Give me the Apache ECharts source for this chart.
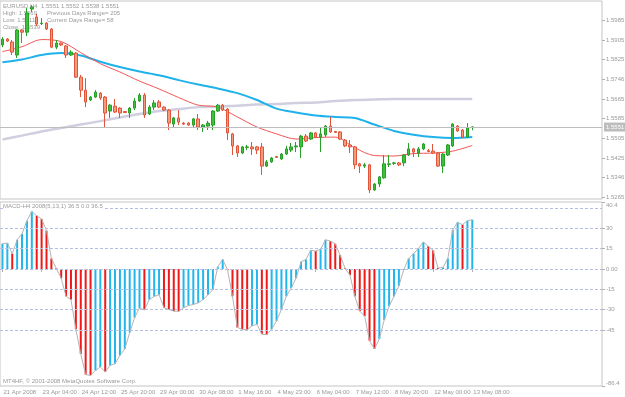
<!DOCTYPE html>
<html>
<head>
<meta charset="utf-8">
<script src="https://cdn.jsdelivr.net/npm/echarts@6.0.0/dist/echarts.min.js"></script>
<style>
  html, body { margin: 0; padding: 0; background: #fff; }
  #chart { width: 625px; height: 397px; }
</style>
</head>
<body>
<div id="chart"></div>
<script>
// EURUSD H4 candles, one entry per bar
const opens = [1.5885,1.5909,1.5897,1.5844,1.5946,1.5937,1.6031,1.5999,1.5972,1.5974,
  1.5950,1.5876,1.5893,1.5881,1.5844,1.5852,1.5754,1.5701,1.5661,1.5673,
  1.5689,1.5673,1.5616,1.5636,1.5628,1.5614,1.5608,1.5628,1.5657,1.5681,
  1.5604,1.5632,1.5653,1.5632,1.5620,1.5563,1.5588,1.5567,1.5567,1.5559,
  1.5584,1.5551,1.5555,1.5559,1.5616,1.5640,1.5624,1.5523,1.5474,1.5445,
  1.5468,1.5470,1.5470,1.5470,1.5392,1.5409,1.5431,1.5421,1.5441,1.5457,
  1.5470,1.5470,1.5514,1.5502,1.5527,1.5510,1.5519,1.5555,1.5533,1.5531,
  1.5498,1.5478,1.5470,1.5401,1.5392,1.5397,1.5295,1.5319,1.5344,1.5399,
  1.5403,1.5405,1.5405,1.5437,1.5462,1.5445,1.5462,1.5455,1.5453,1.5445,
  1.5392,1.5437,1.5474,1.5555,1.5539,1.5510,1.5551];
const closes = [1.5909,1.5901,1.5856,1.5946,1.5937,1.6015,1.6039,1.5970,1.5974,1.5950,
  1.5876,1.5893,1.5885,1.5844,1.5856,1.5754,1.5701,1.5653,1.5673,1.5693,
  1.5669,1.5608,1.5640,1.5612,1.5608,1.5610,1.5628,1.5657,1.5681,1.5600,
  1.5632,1.5649,1.5632,1.5620,1.5567,1.5588,1.5571,1.5563,1.5559,1.5584,
  1.5551,1.5559,1.5567,1.5616,1.5640,1.5620,1.5527,1.5474,1.5445,1.5470,
  1.5470,1.5462,1.5457,1.5392,1.5409,1.5425,1.5427,1.5441,1.5462,1.5470,
  1.5474,1.5514,1.5494,1.5527,1.5510,1.5523,1.5555,1.5531,1.5529,1.5502,
  1.5474,1.5470,1.5397,1.5392,1.5397,1.5295,1.5319,1.5348,1.5401,1.5401,
  1.5405,1.5397,1.5437,1.5462,1.5449,1.5462,1.5482,1.5451,1.5445,1.5392,
  1.5441,1.5478,1.5563,1.5535,1.5510,1.5547,1.5551];
const lows = [1.5876,1.5897,1.5844,1.5832,1.5893,1.5921,1.6019,1.5962,1.5966,1.5946,
  1.5872,1.5868,1.5881,1.5832,1.5840,1.5750,1.5673,1.5632,1.5657,1.5669,
  1.5661,1.5551,1.5588,1.5608,1.5588,1.5608,1.5588,1.5620,1.5653,1.5588,
  1.5600,1.5620,1.5628,1.5616,1.5539,1.5547,1.5559,1.5559,1.5555,1.5551,
  1.5539,1.5531,1.5539,1.5539,1.5612,1.5616,1.5498,1.5437,1.5429,1.5441,
  1.5457,1.5437,1.5441,1.5356,1.5388,1.5405,1.5425,1.5417,1.5437,1.5449,
  1.5449,1.5425,1.5490,1.5498,1.5506,1.5449,1.5510,1.5527,1.5527,1.5498,
  1.5470,1.5445,1.5380,1.5364,1.5384,1.5282,1.5291,1.5307,1.5340,1.5388,
  1.5397,1.5392,1.5392,1.5433,1.5429,1.5429,1.5457,1.5449,1.5441,1.5388,
  1.5364,1.5433,1.5470,1.5531,1.5506,1.5506,1.5538];
const highs = [1.5917,1.5913,1.5905,1.5950,1.5950,1.6035,1.6047,1.6011,1.5994,1.5978,
  1.5954,1.5905,1.5895,1.5885,1.5864,1.5856,1.5763,1.5750,1.5677,1.5701,
  1.5693,1.5677,1.5645,1.5665,1.5632,1.5616,1.5632,1.5669,1.5689,1.5689,
  1.5640,1.5661,1.5661,1.5636,1.5624,1.5592,1.5620,1.5571,1.5571,1.5588,
  1.5604,1.5563,1.5576,1.5620,1.5645,1.5645,1.5628,1.5527,1.5478,1.5474,
  1.5478,1.5490,1.5474,1.5486,1.5417,1.5429,1.5433,1.5445,1.5474,1.5486,
  1.5490,1.5519,1.5523,1.5531,1.5531,1.5547,1.5559,1.5592,1.5535,1.5535,
  1.5502,1.5498,1.5474,1.5405,1.5405,1.5401,1.5323,1.5352,1.5437,1.5437,
  1.5409,1.5409,1.5441,1.5486,1.5466,1.5470,1.5486,1.5462,1.5482,1.5449,
  1.5445,1.5482,1.5567,1.5559,1.5543,1.5567,1.5552];

// moving averages, read every 4th bar
const maBars = [0,4,8,12,16,20,24,28,32,36,40,44,48,52,56,60,64,68,72,76,80,84,88,92,96];
const maRed = [1.5858,1.5878,1.5907,1.5899,1.5854,1.5809,1.5775,1.5738,1.5706,1.5671,
  1.5640,1.5632,1.5592,1.5551,1.5523,1.5502,1.5508,1.5510,1.5466,1.5435,
  1.5433,1.5443,1.5445,1.5453,1.5476];
const maBlue = [1.5815,1.5826,1.5844,1.5852,1.5842,1.5817,1.5795,1.5777,1.5762,1.5742,
  1.5724,1.5708,1.5689,1.5661,1.5626,1.5610,1.5598,1.5592,1.5588,1.5561,
  1.5535,1.5520,1.5510,1.5506,1.5510];
const maGray = [1.5500,1.5516,1.5533,1.5547,1.5561,1.5575,1.5590,1.5604,1.5616,1.5624,
  1.5632,1.5634,1.5638,1.5643,1.5645,1.5649,1.5651,1.5657,1.5661,1.5663,
  1.5665,1.5665,1.5665,1.5665,1.5665];

// MACD histogram, one value per bar
const macd = [18.7,19.2,11.4,21.6,26.0,35.7,42.5,39.4,37.0,28.4,
  7.8,0.5,-6.8,-20.2,-22.6,-44.5,-62.7,-78.0,-78.5,-74.9,
  -72.4,-76.0,-71.2,-70.0,-63.9,-59.0,-46.9,-35.9,-28.8,-30.3,
  -22.6,-20.2,-19.0,-28.6,-29.9,-31.1,-31.3,-28.6,-27.0,-26.2,
  -25.0,-22.6,-19.0,-15.3,1.7,7.1,-0.7,-20.2,-43.2,-44.5,
  -44.8,-42.0,-40.8,-48.1,-48.5,-44.5,-38.4,-29.9,-20.2,-14.1,
  -6.8,5.3,7.1,13.8,13.3,14.6,21.6,20.6,18.7,10.2,
  0.5,-4.4,-20.2,-31.1,-34.8,-53.0,-59.0,-51.7,-37.7,-27.5,
  -20.2,-12.4,-0.5,7.8,11.4,15.1,19.9,16.8,13.8,0.7,
  1.2,7.8,28.9,34.5,32.8,35.7,36.4];

// axis labels
const timeLabels = ['21 Apr 2008','23 Apr 04:00','24 Apr 12:00','25 Apr 20:00','29 Apr 00:00',
  '30 Apr 08:00','1 May 16:00','4 May 23:00','6 May 04:00','7 May 12:00','8 May 20:00',
  '12 May 00:00','13 May 08:00'];
const priceTicks = [1.5265,1.5346,1.5425,1.5505,1.5585,1.5665,1.5746,1.5825,1.5905,1.5985];
const macdTickValues = [-86.4,-45,-30,-15,0,15,30,49.5];
const macdTickLabels = ['-86.4','-45','-30','-15','0.00','15','30','40.4'];
const macdLevels = [45,30,15,0,-15,-30,-45];

const totalSlots = 123; // bars plus the empty space on the right
const cats = [];
for (let i = 0; i < totalSlots; i++) {
  cats.push(i % 8 === 0 && i / 8 < timeLabels.length ? timeLabels[i / 8] : '');
}
const showLabel = (idx) => cats[idx] !== '';

const candles = opens.map((o, i) => [o, closes[i], lows[i], highs[i]]);
const maLine = (vals) => maBars.map((b, i) => [b, vals[i]]);
const lastPrice = closes[closes.length - 1];

const txt = '#9a9a9a';
const font = 'Liberation Sans';

const chart = echarts.init(document.getElementById('chart'), null, { renderer: 'canvas' });
chart.setOption({
  animation: false,
  backgroundColor: '#fff',
  textStyle: { fontFamily: font },
  grid: [
    { left: 0, top: 1, width: 602, height: 198, show: true, borderColor: '#c4c4c4', borderWidth: 1, outerBoundsMode: 'none' },
    { left: 0, top: 202, width: 602, height: 184, show: true, borderColor: '#c4c4c4', borderWidth: 1, outerBoundsMode: 'none' }
  ],
  xAxis: [
    { type: 'category', gridIndex: 0, data: cats, boundaryGap: true,
      axisLine: { show: false }, axisTick: { show: false }, axisLabel: { show: false }, splitLine: { show: false } },
    { type: 'category', gridIndex: 1, data: cats, boundaryGap: true,
      axisLine: { show: false },
      axisTick: { show: true, alignWithLabel: true, interval: showLabel, length: 3, lineStyle: { color: '#b0b0b0' } },
      axisLabel: { interval: showLabel, align: 'left', fontSize: 6, color: txt, margin: 3, padding: [0, 0, 0, 1], fontFamily: font },
      splitLine: { show: false } }
  ],
  yAxis: [
    { type: 'value', gridIndex: 0, position: 'right', min: 1.5258, max: 1.6064, scale: true,
      splitLine: { show: false }, axisLine: { show: false },
      axisTick: { show: true, length: 3, customValues: priceTicks, lineStyle: { color: '#b0b0b0' } },
      axisLabel: { customValues: priceTicks, formatter: (v) => v.toFixed(4), fontSize: 6, color: txt, margin: 4, fontFamily: font } },
    { type: 'value', gridIndex: 1, position: 'right', min: -86.4, max: 49.5,
      splitLine: { show: false }, axisLine: { show: false },
      axisTick: { show: true, length: 3, customValues: macdTickValues, lineStyle: { color: '#b0b0b0' } },
      axisLabel: { customValues: macdTickValues, fontSize: 6, color: txt, margin: 4, fontFamily: font,
        verticalAlignMinLabel: 'bottom', verticalAlignMaxLabel: 'top',
        formatter: (v) => { const k = macdTickValues.indexOf(v); return k >= 0 ? macdTickLabels[k] : ''; } } }
  ],
  series: [
    { name: 'MA200', type: 'line', xAxisIndex: 0, yAxisIndex: 0, data: maLine(maGray), smooth: 0.3,
      showSymbol: false, lineStyle: { color: '#cfcfe0', width: 2.5 }, z: 1,
      // current price line
      markLine: { silent: true, symbol: 'none', precision: 4,
        lineStyle: { color: '#bdbdbd', width: 1, type: 'solid' },
        label: { position: 'end', distance: 2, formatter: (p) => Number(p.value).toFixed(4), fontSize: 6, color: '#fff',
          backgroundColor: '#bdbdbd', padding: [2, 2, 1, 2], fontFamily: font },
        data: [{ yAxis: lastPrice }] } },
    { name: 'MA blue', type: 'line', xAxisIndex: 0, yAxisIndex: 0, data: maLine(maBlue), smooth: 0.3,
      showSymbol: false, lineStyle: { color: '#1fb2ea', width: 2 }, z: 2 },
    { name: 'MA red', type: 'line', xAxisIndex: 0, yAxisIndex: 0, data: maLine(maRed), smooth: 0.3,
      showSymbol: false, lineStyle: { color: '#f25656', width: 1 }, z: 2 },
    { name: 'EURUSD,H4', type: 'candlestick', xAxisIndex: 0, yAxisIndex: 0, data: candles, barWidth: 3,
      itemStyle: { color: '#3dbf3d', color0: '#f59a7a', borderColor: '#26a026', borderColor0: '#e0543a', borderWidth: 1 },
      z: 3 },
    { name: 'MACD', type: 'bar', xAxisIndex: 1, yAxisIndex: 1, data: macd, barWidth: 2,
      itemStyle: { color: (p) => (p.dataIndex === 0 || macd[p.dataIndex] > macd[p.dataIndex - 1]) ? '#22b6ec' : '#f01818' },
      markLine: { silent: true, symbol: 'none', precision: 1,
        lineStyle: { color: '#b6bfe2', width: 1, type: [3, 2] },
        label: { show: false },
        data: macdLevels.map((v) => ({ yAxis: v })) },
      z: 2 },
    { name: 'MACD line', type: 'line', xAxisIndex: 1, yAxisIndex: 1, data: macd, showSymbol: false,
      lineStyle: { color: '#b4b4b4', width: 1 }, z: 3 }
  ],
  graphic: [
    { type: 'text', left: 3, top: 3, z: 0, style: { text: 'EURUSD,H4  1.5551 1.5552 1.5538 1.5551', fill: txt, font: '6px "Liberation Sans"' } },
    { type: 'text', left: 3, top: 10, z: 0, style: { text: 'High: 1.5569', fill: txt, font: '6px "Liberation Sans"' } },
    { type: 'text', left: 47, top: 10, z: 0, style: { text: 'Previous Days Range= 205', fill: txt, font: '6px "Liberation Sans"' } },
    { type: 'text', left: 3, top: 17, z: 0, style: { text: 'Low: 1.5511', fill: txt, font: '6px "Liberation Sans"' } },
    { type: 'text', left: 47, top: 17, z: 0, style: { text: 'Current Days Range= 58', fill: txt, font: '6px "Liberation Sans"' } },
    { type: 'text', left: 3, top: 24.5, z: 0, style: { text: 'Close: 1.5539', fill: txt, font: '6px "Liberation Sans"' } },
    { type: 'text', left: 3, top: 203.5, z: 10, style: { text: 'MACD-H4 2008(5,13,1) 36.5 0.0 36.5', fill: txt, font: '6px "Liberation Sans"', backgroundColor: '#fff' } },
    { type: 'text', left: 3, top: 378.5, z: 10, style: { text: 'MT4HF, \u00a9 2001-2008 MetaQuotes Software Corp.', fill: txt, font: '6px "Liberation Sans"' } }
  ]
});
</script>
</body>
</html>
